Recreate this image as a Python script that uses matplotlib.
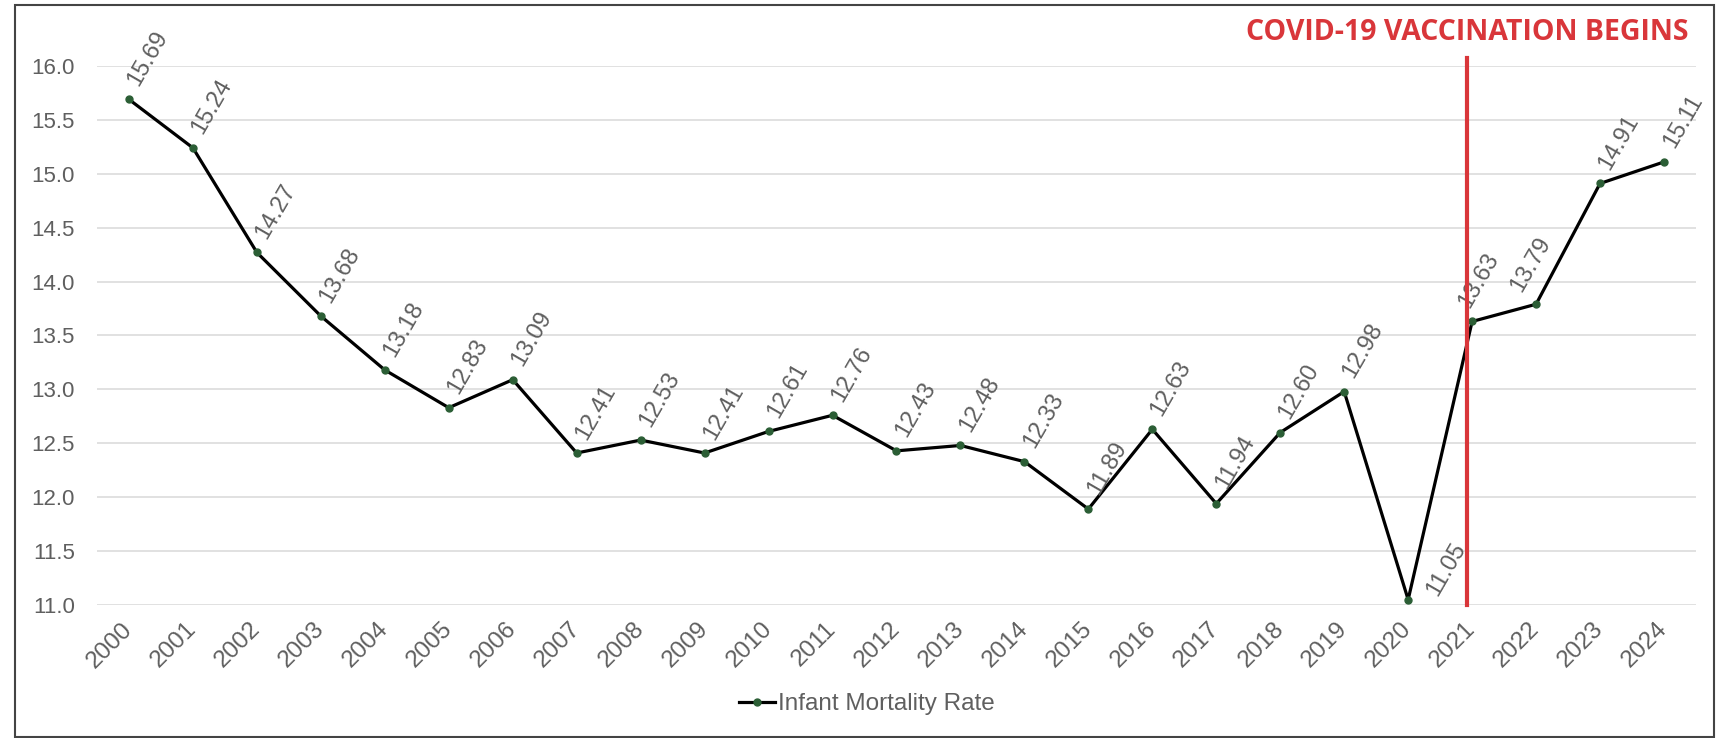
import numpy as np
import matplotlib.pyplot as plt
import matplotlib.transforms as mtransforms
from matplotlib.patches import Rectangle
from matplotlib.ticker import FormatStrFormatter

# datos
anios = [str(a) for a in range(2000, 2025)]
tasa = [15.69, 15.24, 14.27, 13.68, 13.18, 12.83, 13.09, 12.41, 12.53, 12.41,
        12.61, 12.76, 12.43, 12.48, 12.33, 11.89, 12.63, 11.94, 12.60, 12.98,
        11.05, 13.63, 13.79, 14.91, 15.11]
anio_vacuna = '2021'

plt.rcParams['font.family'] = ['Liberation Sans', 'DejaVu Sans']
gris = '#5f5f5f'

fig = plt.figure(figsize=(17.26, 7.38), dpi=100)
ax = fig.add_axes([0.0562, 0.1802, 0.9264, 0.7304])

x = np.arange(len(anios))
ax.set_xlim(-0.5, len(anios) - 0.5)
ax.set_ylim(11.0, 16.0)

ax.plot(x, tasa, color='black', lw=2.3, marker='o', ms=5,
        mfc='#2b5e35', mec='#2b5e35', label='Infant Mortality Rate', zorder=3)

# etiquetas de valor (desplazamiento en pixeles)
desp = {20: (38, -30), 21: (7, -41), 22: (-5, -40)}
for i, v in enumerate(tasa):
    dx, dy = desp.get(i, (19, -41))
    ax.annotate(f'{v:.2f}', (i, v), xytext=(dx * 0.72, -dy * 0.72),
                textcoords='offset points', rotation=60, rotation_mode='anchor',
                ha='center', va='center', fontsize=17, color=gris, zorder=4)

# linea de inicio de vacunacion
xv = anios.index(anio_vacuna) - 0.08
ax.plot([xv, xv], [11.0, 16.07], color='#d9363a', lw=3, clip_on=False, zorder=5)
mixto = mtransforms.blended_transform_factory(ax.transData, fig.transFigure)
fig.text(xv, 1 - 33 / 738, 'COVID-19 VACCINATION BEGINS', transform=mixto,
         color='#d9363a', fontsize=20.5, fontweight='bold', family='Open Sans',
         ha='center', va='center')

ax.set_yticks(np.arange(11.0, 16.01, 0.5))
ax.yaxis.set_major_formatter(FormatStrFormatter('%.1f'))
ax.set_xticks(x)
ax.set_xticklabels(anios, rotation=45, ha='right', va='center',
                   rotation_mode='anchor')
mover = mtransforms.ScaledTranslation(17 / 100, 0, fig.dpi_scale_trans)
for lab in ax.get_xticklabels():
    lab.set_transform(lab.get_transform() + mover)
ax.tick_params(axis='both', length=0, labelcolor=gris)
ax.tick_params(axis='y', pad=16, labelsize=16)
ax.tick_params(axis='x', pad=15, labelsize=17.5)
ax.grid(axis='y', color='#dcdcdc', lw=1.2)
ax.set_axisbelow(True)
for s in ax.spines.values():
    s.set_visible(False)

fig.legend(loc='center', bbox_to_anchor=(0.502, 34 / 738), frameon=False,
           fontsize=17.5, labelcolor=gris, handlelength=1.5, handletextpad=0.1)

# marco exterior
fig.patches.append(Rectangle((15 / 1726, 1 / 738), 1699 / 1726, 732 / 738,
                             transform=fig.transFigure, fill=False,
                             ec='#444444', lw=1.5))

fig.savefig('out.png', dpi=100)
